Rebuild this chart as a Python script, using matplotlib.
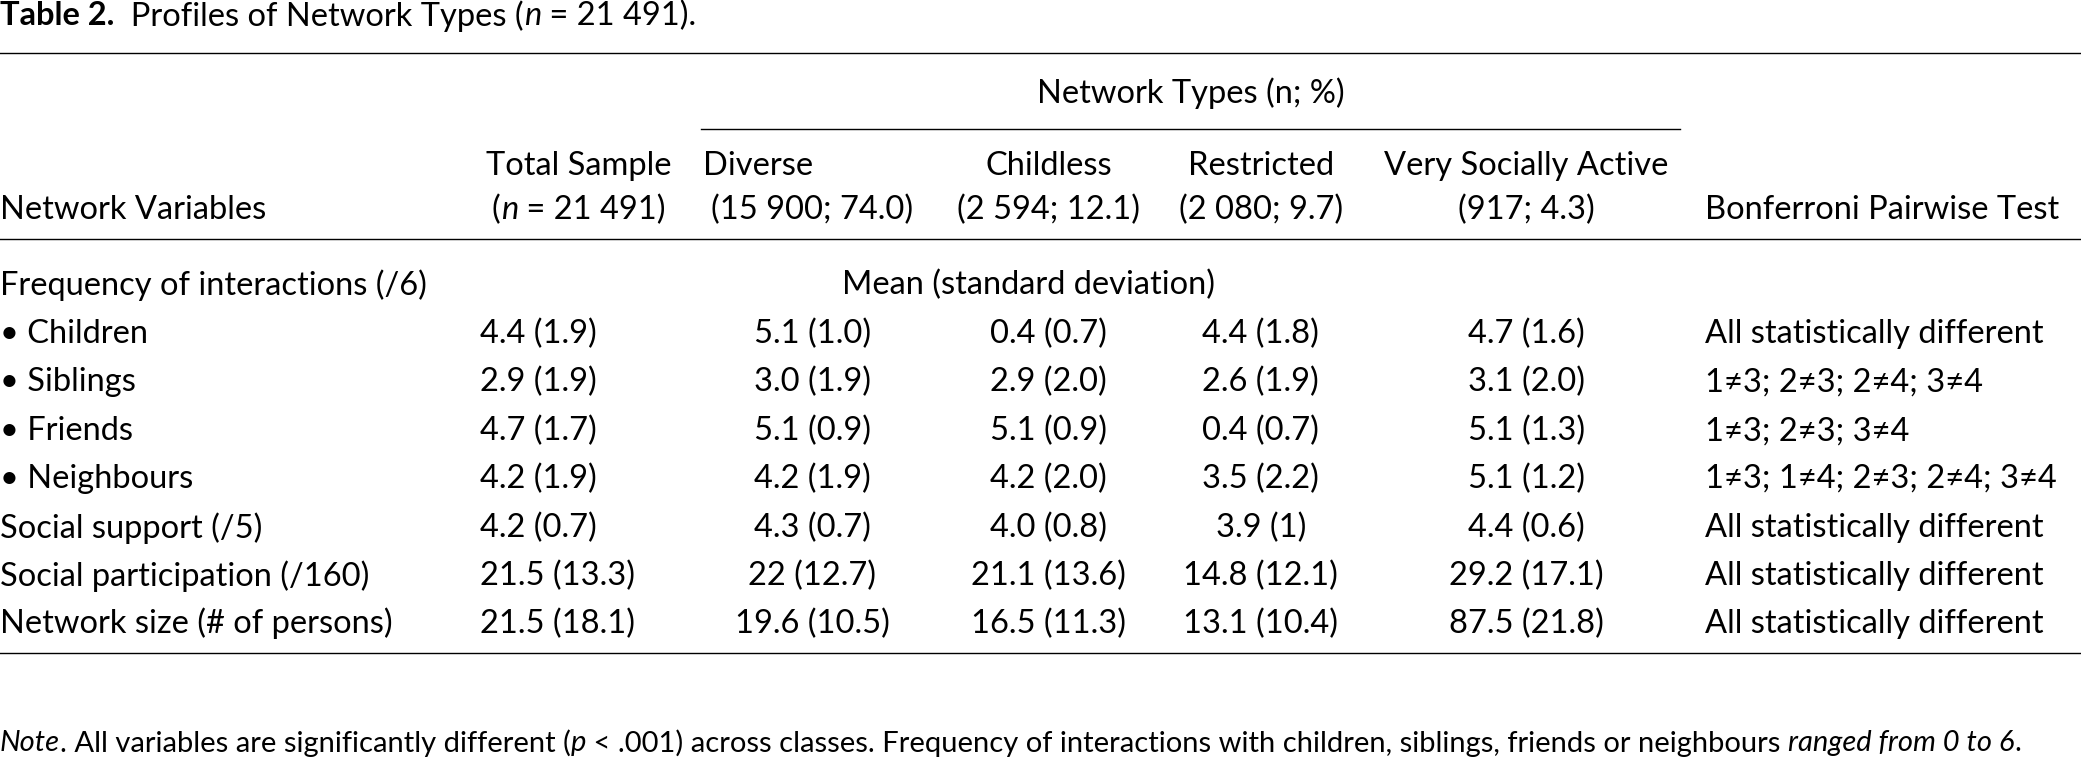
import matplotlib
matplotlib.use("Agg")
import matplotlib.pyplot as plt

plt.rcParams['font.family'] = ['Lato', 'DejaVu Sans']

# layout coordinates below are in a 1568 x 572 grid, figure is 2081 x 759 px
W, H = 1568, 572
FS = 23.5

row_labels = ["Frequency of interactions (/6)", "• Children", "• Siblings", "• Friends",
              "• Neighbours", "Social support (/5)", "Social participation (/160)",
              "Network size (# of persons)"]
total = ["", "4.4 (1.9)", "2.9 (1.9)", "4.7 (1.7)", "4.2 (1.9)", "4.2 (0.7)", "21.5 (13.3)", "21.5 (18.1)"]
diverse = ["", "5.1 (1.0)", "3.0 (1.9)", "5.1 (0.9)", "4.2 (1.9)", "4.3 (0.7)", "22 (12.7)", "19.6 (10.5)"]
childless = ["", "0.4 (0.7)", "2.9 (2.0)", "5.1 (0.9)", "4.2 (2.0)", "4.0 (0.8)", "21.1 (13.6)", "16.5 (11.3)"]
restricted = ["", "4.4 (1.8)", "2.6 (1.9)", "0.4 (0.7)", "3.5 (2.2)", "3.9 (1)", "14.8 (12.1)", "13.1 (10.4)"]
very_active = ["", "4.7 (1.6)", "3.1 (2.0)", "5.1 (1.3)", "5.1 (1.2)", "4.4 (0.6)", "29.2 (17.1)", "87.5 (21.8)"]
bonferroni = ["", "All statistically different", "1≠3; 2≠3; 2≠4; 3≠4", "1≠3; 2≠3; 3≠4",
              "1≠3; 1≠4; 2≠3; 2≠4; 3≠4", "All statistically different",
              "All statistically different", "All statistically different"]

fig = plt.figure(figsize=(20.81, 7.59), dpi=100)
ax = fig.add_axes([0, 0, 1, 1])
ax.set_xlim(0, W)
ax.set_ylim(H, 0)
ax.axis("off")
renderer = fig.canvas.get_renderer()
SCALE = W / 2081.0


def runs(x, y, parts, ha="left", fs=FS):
    # parts: list of (text, weight, style)
    items = []
    width = 0
    for txt, wt, st in parts:
        t = ax.text(0, y, txt, fontsize=fs, fontweight=wt, fontstyle=st, va="center", ha="left")
        bb = t.get_window_extent(renderer)
        items.append((t, bb.width * SCALE))
        width += bb.width * SCALE
    if ha == "center":
        x = x - width / 2
    for t, w in items:
        t.set_x(x)
        x += w


def txt(x, y, s, ha="left"):
    ax.text(x, y, s, fontsize=FS, va="center", ha=ha)


N, I, B = "normal", "italic", "bold"

runs(0, 12, [("Table 2.", B, N), ("  Profiles of Network Types (", N, N), ("n", N, I), (" = 21 491).", N, N)])
ax.plot([0, W], [40, 40], color="black", lw=1)

txt(897, 70, "Network Types (n; %)", ha="center")
ax.plot([528, 1266], [97, 97], color="black", lw=1)

txt(436, 125, "Total Sample", ha="center")
txt(530, 125, "Diverse")
txt(790, 125, "Childless", ha="center")
txt(950, 125, "Restricted", ha="center")
txt(1150, 125, "Very Socially Active", ha="center")

txt(0, 158, "Network Variables")
runs(436, 158, [("(", N, N), ("n", N, I), (" = 21 491)", N, N)], ha="center")
txt(612, 158, "(15 900; 74.0)", ha="center")
txt(790, 158, "(2 594; 12.1)", ha="center")
txt(950, 158, "(2 080; 9.7)", ha="center")
txt(1150, 158, "(917; 4.3)", ha="center")
txt(1285, 158, "Bonferroni Pairwise Test")
ax.plot([0, W], [180, 180], color="black", lw=1)

row_y = [215, 252, 288, 325, 361, 398, 434, 470]
for i, y in enumerate(row_y):
    txt(0, y, row_labels[i])
    txt(362, y, total[i])
    txt(612, y, diverse[i], ha="center")
    txt(790, y, childless[i], ha="center")
    txt(950, y, restricted[i], ha="center")
    txt(1150, y, very_active[i], ha="center")
    txt(1285, y, bonferroni[i])
txt(775, 215, "Mean (standard deviation)", ha="center")
ax.plot([0, W], [492, 492], color="black", lw=1)

runs(0, 560, [("Note", N, I), (". All variables are significantly different (", N, N), ("p", N, I),
              (" < .001) across classes. Frequency of interactions with children, siblings, friends or neighbours ", N, N),
              ("ranged from 0 to 6", N, I), (".", N, N)], fs=21)
runs(0, 594, [("Social support score ", N, N), ("ranged from 1 to 5", N, I), ("; Social participation; ", N, N),
              ("aggregate indicator of social participation (range 0–160)", N, I), (".", N, N)], fs=21)

fig.savefig("out.png", dpi=100)
